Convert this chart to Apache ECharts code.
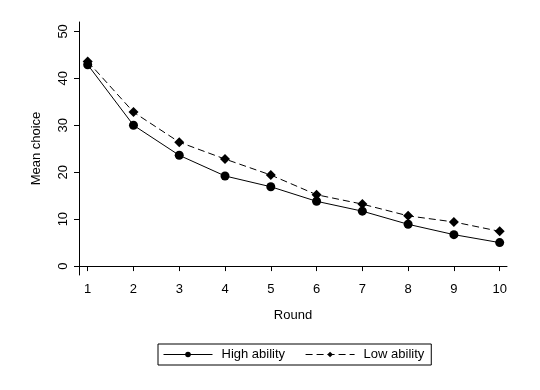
<!DOCTYPE html>
<html><head><meta charset="utf-8">
<script src="https://cdn.jsdelivr.net/npm/echarts@6/dist/echarts.min.js"></script>
<style>html,body{margin:0;padding:0;background:#fff}#c{width:540px;height:390px}</style>
</head><body><div id="c"></div>
<script>
const rounds = [1,2,3,4,5,6,7,8,9,10];
const highAbility = [42.9,30.0,23.6,19.2,16.9,13.8,11.7,8.9,6.7,5.0];
const lowAbility = [43.6,32.8,26.4,22.8,19.4,15.2,13.2,10.7,9.4,7.4];
const yTicks = [0,10,20,30,40,50];
const xTicks = rounds;

const font = 'Liberation Sans, Arial, sans-serif';
const chart = echarts.init(document.getElementById('c'), null, {renderer:'canvas'});
chart.setOption({
  animation:false,
  backgroundColor:'#fff',
  grid:{left:79, right:33, top:22, bottom:115},
  xAxis:{type:'value', min:0.81, max:10.16,
    name:'Round', nameLocation:'middle', nameGap:34,
    nameTextStyle:{color:'#000', fontSize:13, fontFamily:font},
    axisLine:{show:true, lineStyle:{color:'#000', width:1}},
    axisTick:{show:true, length:5, customValues:xTicks, lineStyle:{color:'#000'}},
    axisLabel:{customValues:xTicks, color:'#000', fontSize:13, fontFamily:font, margin:8},
    splitLine:{show:false}},
  yAxis:{type:'value', min:-1.9, max:52,
    name:'Mean choice', nameLocation:'middle', nameGap:36,
    nameTextStyle:{color:'#000', fontSize:13, fontFamily:font},
    axisLine:{show:true, lineStyle:{color:'#000', width:1}},
    axisTick:{show:true, length:5, customValues:yTicks, lineStyle:{color:'#000'}},
    axisLabel:{customValues:yTicks, rotate:90, color:'#000', fontSize:13, fontFamily:font, margin:9},
    splitLine:{show:false}},
  legend:{left:158, top:344, padding:[4,7,4,5], itemGap:20,
    borderColor:'#000', borderWidth:1, itemWidth:49, itemHeight:7,
    lineStyle:{width:1},
    textStyle:{color:'#000', fontSize:13, fontFamily:font, padding:[0,0,0,4]},
    data:['High ability','Low ability']},
  series:[
    {name:'High ability', type:'line', data:rounds.map((r,i)=>[r,highAbility[i]]),
      symbol:'circle', symbolSize:9, itemStyle:{color:'#000'},
      lineStyle:{color:'#000', width:1}},
    {name:'Low ability', type:'line', data:rounds.map((r,i)=>[r,lowAbility[i]]),
      symbol:'diamond', symbolSize:10, itemStyle:{color:'#000'},
      lineStyle:{color:'#000', width:1, type:[7,4]}}
  ]
});
</script></body></html>
